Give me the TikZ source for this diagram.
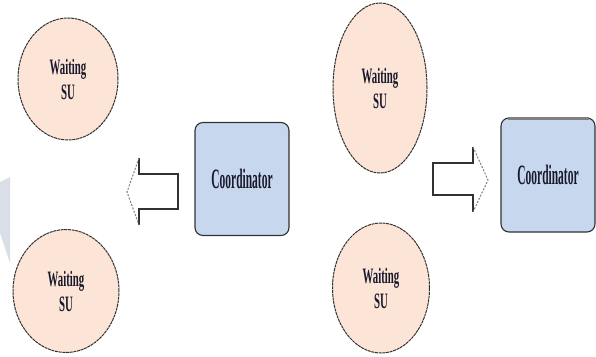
\documentclass[tikz,border=0pt]{standalone}
\usepackage{fontspec}
\setmainfont{Liberation Serif}
\usetikzlibrary{shapes.geometric}
\definecolor{peach}{RGB}{252,228,214}
\definecolor{paleblue}{RGB}{198,215,238}
\definecolor{edgegray}{RGB}{50,50,50}
\definecolor{sidegray}{RGB}{218,223,231}
\definecolor{inkcol}{RGB}{25,25,45}
\newcommand{\squeezesu}[1]{\scalebox{0.49}[1]{#1}}
\newcommand{\squeezecoord}[1]{\scalebox{0.41}[1]{#1}}
\tikzset{
  su/.style={ellipse, draw=edgegray, line width=1pt,
    dash pattern=on 3pt off 0.7pt, fill=peach, inner sep=0pt,
    align=center, text=inkcol, font=\fontsize{22}{25}\selectfont\bfseries},
  coordbox/.style={rectangle, rounded corners=8pt, draw=edgegray,
    line width=1.1pt, fill=paleblue, inner sep=0pt,
    minimum width=94pt, minimum height=113pt, text=inkcol,
    font=\fontsize{28}{30}\selectfont\bfseries},
  arrowbody/.style={draw=edgegray, line width=1.1pt, line join=miter},
  arrowtip/.style={draw=gray, line width=1pt, dash pattern=on 2pt off 1.5pt}
}
\begin{document}
\begin{tikzpicture}[x=1pt,y=-1pt]
\useasboundingbox (0,0) rectangle (596,356);
\fill[white] (0,0) rectangle (596,356);

% pale strip on the left edge
\fill[sidegray] (0,182) -- (10,177) -- (10,263) -- (0,233) -- cycle;

% waiting secondary users
\node[su, minimum width=100pt, minimum height=122pt] (e1) at (68,79)
  {\squeezesu{Waiting}\\\squeezesu{SU}};
\node[su, minimum width=106pt, minimum height=123pt] (e2) at (66,291)
  {\squeezesu{Waiting}\\\squeezesu{SU}};
\node[su, minimum width=94pt, minimum height=170pt] (e3) at (380,88)
  {\squeezesu{Waiting}\\\squeezesu{SU}};
\node[su, minimum width=97pt, minimum height=130pt] (e4) at (381,288)
  {\squeezesu{Waiting}\\\squeezesu{SU}};

% coordinators
\node[coordbox] (c1) at (242,179) {\squeezecoord{Coordinator}};
\node[coordbox, minimum height=114pt] (c2) at (548,175) {\squeezecoord{Coordinator}};
\draw[gray, line width=3pt] ([xshift=-40pt,yshift=-1pt]c2.north) -- ([xshift=41pt,yshift=-1pt]c2.north);

% block arrow pointing left
\coordinate (la1) at (139,158);
\coordinate (la2) at (139,174);
\coordinate (la3) at (178,174);
\coordinate (la4) at (178,209);
\coordinate (la5) at (139,209);
\coordinate (la6) at (139,225);
\coordinate (latip) at (127,192);
\draw[arrowbody] (la1) -- (la2) -- (la3) -- (la4) -- (la5) -- (la6);
\draw[arrowtip] (la1) -- (latip) -- (la6);

% block arrow pointing right
\coordinate (ra1) at (473,147);
\coordinate (ra2) at (473,163);
\coordinate (ra3) at (433,163);
\coordinate (ra4) at (433,195);
\coordinate (ra5) at (473,195);
\coordinate (ra6) at (473,212);
\coordinate (ratip) at (488,180);
\draw[arrowbody] (ra1) -- (ra2) -- (ra3) -- (ra4) -- (ra5) -- (ra6);
\draw[arrowtip] (ra1) -- (ratip) -- (ra6);
\end{tikzpicture}
\end{document}
